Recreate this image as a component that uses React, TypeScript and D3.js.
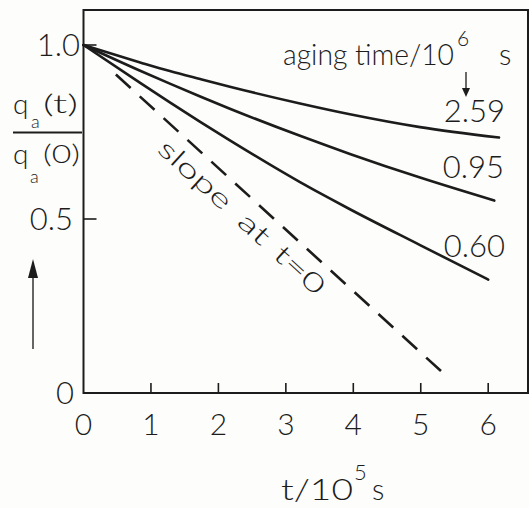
import React from "react";
import * as d3 from "d3";

// ---- data ----
const tTicks = [0, 1, 2, 3, 4, 5, 6];
const tTickLabels = ["0", "1", "2", "3", "4", "5", "6"];
const qTicks = [1.0, 0.5, 0];
const qTickLabels = ["1.0", "0.5", "0"];

const agingTimes = ["2.59", "0.95", "0.60"];
const series259: [number, number][] = [
  [0, 1.0], [0.84, 0.95], [1.28, 0.925], [1.73, 0.902], [2.17, 0.88],
  [3.21, 0.832], [3.95, 0.801], [4.99, 0.764], [6.16, 0.734],
];
const series095: [number, number][] = [
  [0, 1.0], [0.84, 0.926], [1.28, 0.889], [1.73, 0.852], [2.17, 0.817],
  [3.21, 0.739], [3.95, 0.687], [4.99, 0.619], [6.09, 0.553],
];
const series060: [number, number][] = [
  [0, 1.0], [0.84, 0.891], [1.28, 0.835], [1.73, 0.779], [2.17, 0.726],
  [3.21, 0.606], [3.65, 0.559], [3.95, 0.528], [4.99, 0.425], [6.0, 0.326],
];
const tangentLine: [number, number][] = [
  [0.48, 0.915], [5.3, 0.063],
];

// ---- layout ----
const W = 529, H = 508;
const ink = "#1c1c1c";
const font = "Lato, 'Open Sans', 'DejaVu Sans', sans-serif";
const labelLayout = [
  { right: 505, baseline: 122 },
  { right: 504, baseline: 178 },
  { right: 505, baseline: 257 },
];
const yLabelRight = [80, 73, 74];

export default function App() {
  const x = d3.scaleLinear().domain([0, 6]).range([83.5, 488.2]);
  const y = d3.scaleLinear().domain([0, 1]).range([393, 45]);
  const frame = { left: x(0), right: 528, top: 10, bottom: y(0) };

  const line = d3
    .line<[number, number]>()
    .x((d) => x(d[0]))
    .y((d) => y(d[1]))
    .curve(d3.curveMonotoneX);
  const straight = d3
    .line<[number, number]>()
    .x((d) => x(d[0]))
    .y((d) => y(d[1]));

  const series = [series259, series095, series060];

  // dashed tangent pattern so that it starts and ends with a dash
  const [p0, p1] = tangentLine;
  const dx = x(p1[0]) - x(p0[0]);
  const dy = y(p1[1]) - y(p0[1]);
  const L = Math.hypot(dx, dy);
  const nDash = 14, dash = 20;
  const gap = (L - nDash * dash) / (nDash - 1);

  // rotated text frame along the tangent
  const ox = x(0), oy = y(1);
  const angle = (Math.atan2(dy, dx) * 180) / Math.PI;

  return (
    <svg
      width={W}
      height={H}
      style={{ position: "absolute", left: 0, top: 0, background: "#fdfdfb" }}
      fontFamily={font}
      fontWeight={300}
      fill={ink}
    >
      {/* frame */}
      <rect
        x={frame.left}
        y={frame.top}
        width={frame.right - frame.left}
        height={frame.bottom - frame.top}
        fill="none"
        stroke={ink}
        strokeWidth={2}
      />
      {/* x ticks */}
      {tTicks.slice(1).map((t) => (
        <line key={t} x1={x(t)} x2={x(t)} y1={frame.bottom} y2={frame.bottom - 10} stroke={ink} strokeWidth={1.6} />
      ))}
      {tTicks.map((t, i) => (
        <text key={"xl" + t} x={x(t)} y={435} fontSize={30} textAnchor="middle">
          {tTickLabels[i]}
        </text>
      ))}
      {/* y ticks */}
      {[0.5, 1.0].map((q) => (
        <line key={q} x1={frame.left} x2={frame.left + 13} y1={y(q)} y2={y(q)} stroke={ink} strokeWidth={1.6} />
      ))}
      {qTicks.map((q, i) => (
        <text key={"yl" + q} x={yLabelRight[i]} y={y(q) + 11} fontSize={31} textAnchor="end">
          {qTickLabels[i]}
        </text>
      ))}

      {/* curves */}
      {series.map((s, i) => (
        <path key={i} d={line(s) || ""} fill="none" stroke={ink} strokeWidth={2.6} strokeLinecap="round" />
      ))}
      <path
        d={straight(tangentLine) || ""}
        fill="none"
        stroke={ink}
        strokeWidth={2.6}
        strokeDasharray={`${dash} ${gap}`}
      />

      {/* curve labels */}
      {agingTimes.map((a, i) => (
        <text
          key={a}
          x={labelLayout[i].right}
          y={labelLayout[i].baseline}
          fontSize={31}
          textAnchor="end"
        >
          {a}
        </text>
      ))}

      {/* legend title */}
      <text x={283} y={65} fontSize={29} textLength={171} lengthAdjust="spacingAndGlyphs">
        aging time/10
      </text>
      <text x={457} y={46} fontSize={21}>6</text>
      <text x={499} y={65} fontSize={29}>s</text>
      <line x1={466} x2={466} y1={72} y2={90} stroke={ink} strokeWidth={1.3} />
      <path d="M462,88 L470,88 L466,97 Z" fill={ink} />

      {/* slope at t=0 */}
      <g transform={`translate(${ox},${oy}) rotate(${angle})`} fontSize={26}>
        <text x={125} y={29.5} textLength={90} lengthAdjust="spacingAndGlyphs">slope</text>
        <text x={233} y={29.5} textLength={34} lengthAdjust="spacingAndGlyphs">at</text>
        <text x={282} y={29.5} textLength={59} lengthAdjust="spacingAndGlyphs">t=0</text>
      </g>

      {/* y axis label */}
      <text x={13} y={114} fontSize={28}>q</text>
      <text x={31} y={128} fontSize={18}>a</text>
      <text x={43} y={113} fontSize={25} textLength={35} lengthAdjust="spacingAndGlyphs">(t)</text>
      <line x1={13} x2={82} y1={132.5} y2={132.5} stroke={ink} strokeWidth={2} />
      <text x={13} y={164} fontSize={28}>q</text>
      <text x={30} y={183} fontSize={18}>a</text>
      <text x={43} y={163} fontSize={25} textLength={37} lengthAdjust="spacingAndGlyphs">(0)</text>
      {/* up arrow */}
      <line x1={33} x2={33} y1={349} y2={274} stroke="#333" strokeWidth={1.5} />
      <path d="M28,278 L38,278 L33,259 Z" fill={ink} />

      {/* x axis label */}
      <text x={281} y={500} fontSize={29} textLength={72} lengthAdjust="spacingAndGlyphs">t/10</text>
      <text x={354} y={480} fontSize={22}>5</text>
      <text x={372} y={500} fontSize={29}>s</text>
    </svg>
  );
}
